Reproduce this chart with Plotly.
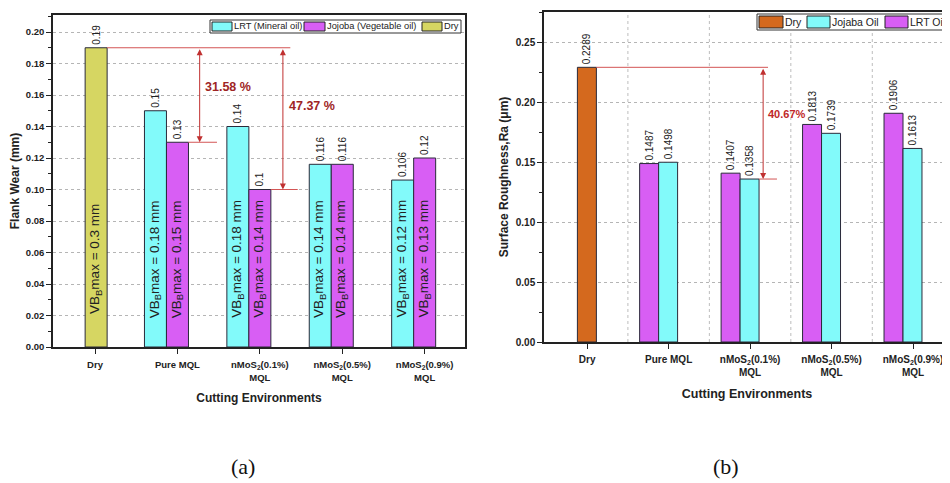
import plotly.graph_objects as go

# ---------------- data ----------------
categories = ["Dry", "Pure MQL",
              "nMoS<sub>2</sub>(0.1%)<br>MQL",
              "nMoS<sub>2</sub>(0.5%)<br>MQL",
              "nMoS<sub>2</sub>(0.9%)<br>MQL"]
dry_categories = categories[:1]
mql_categories = categories[1:]

# (a) flank wear
fw_dry = [0.19]
fw_lrt = [0.15, 0.14, 0.116, 0.106]
fw_jojoba = [0.13, 0.10, 0.116, 0.12]
vbmax_dry = [0.3]
vbmax_lrt = [0.18, 0.18, 0.14, 0.12]
vbmax_jojoba = [0.15, 0.14, 0.14, 0.13]
fw_pct_labels = ["31.58 %", "47.37 %"]
legend_a_names = ["LRT (Mineral oil)", "Jojoba (Vegetable oil)", "Dry"]

# (b) surface roughness
ra_dry = [0.2289]
ra_lrt = [0.1487, 0.1407, 0.1813, 0.1906]
ra_jojoba = [0.1498, 0.1358, 0.1739, 0.1613]
ra_pct_label = "40.67%"
legend_b_names = ["Dry", "Jojaba Oil", "LRT Oil"]

# ---------------- style ----------------
FONT = "Liberation Sans, Arial, sans-serif"
CYAN = "#82FAFA"
MAGENTA = "#D85EF4"
OLIVE = "#D6D662"
ORANGE = "#D4691E"
EDGE = "#2a2a3a"
RED_LINE = "#D35555"
RED_TEXT = "#9E2424"

# page geometry (the figure sits at an 8px body offset in the page)
W, H, OFF = 942, 475, 8
def fx(X):
    return (X - OFF) / W
def fy(Y):
    return 1 - (Y - OFF) / H

fig = go.Figure()

wL = 0.267
offL = {"lrt": -0.40, "joj": -0.133, "dry": -0.12}
wR = 0.233
offR = {"lrt": -0.356, "joj": -0.123, "dry": -0.12}

bar_txt = dict(texttemplate="%{y:.4~f}", textposition="outside", textangle=-90,
               textfont=dict(family=FONT, size=10, color="#222"),
               constraintext="none", cliponaxis=False, showlegend=False)

# ---- left traces
fig.add_trace(go.Bar(x=mql_categories, y=fw_lrt, name=legend_a_names[0], width=wL, offset=offL["lrt"],
                     marker=dict(color=CYAN, line=dict(color=EDGE, width=1)), xaxis="x", yaxis="y", **bar_txt))
fig.add_trace(go.Bar(x=mql_categories, y=fw_jojoba, name=legend_a_names[1], width=wL, offset=offL["joj"],
                     marker=dict(color=MAGENTA, line=dict(color=EDGE, width=1)), xaxis="x", yaxis="y", **bar_txt))
fig.add_trace(go.Bar(x=dry_categories, y=fw_dry, name=legend_a_names[2], width=wL, offset=offL["dry"],
                     marker=dict(color=OLIVE, line=dict(color=EDGE, width=1)), xaxis="x", yaxis="y", **bar_txt))

# ---- right traces
fig.add_trace(go.Bar(x=dry_categories, y=ra_dry, name=legend_b_names[0], width=wR, offset=offR["dry"],
                     marker=dict(color=ORANGE, line=dict(color=EDGE, width=1)), xaxis="x2", yaxis="y2", **bar_txt))
fig.add_trace(go.Bar(x=mql_categories, y=ra_lrt, name=legend_b_names[2], width=wR, offset=offR["lrt"],
                     marker=dict(color=MAGENTA, line=dict(color=EDGE, width=1)), xaxis="x2", yaxis="y2", **bar_txt))
fig.add_trace(go.Bar(x=mql_categories, y=ra_jojoba, name=legend_b_names[1], width=wR, offset=offR["joj"],
                     marker=dict(color=CYAN, line=dict(color=EDGE, width=1)), xaxis="x2", yaxis="y2", **bar_txt))

annotations = []
shapes = []

# VB max labels inside bars (left)
def vb_label(idx, off, val):
    annotations.append(dict(x=idx + off + wL / 2, y=0.056, xref="x", yref="y",
                            text=f"VB<sub>B</sub>max = {val} mm", textangle=-90, showarrow=False,
                            xanchor="center", yanchor="middle",
                            font=dict(family=FONT, size=13.5, color="#222")))

vb_label(categories.index(dry_categories[0]), offL["dry"], vbmax_dry[0])
for c, a, b in zip(mql_categories, vbmax_lrt, vbmax_jojoba):
    i = categories.index(c)
    vb_label(i, offL["lrt"], a)
    vb_label(i, offL["joj"], b)

# reduction markers (left)
dry_right = 0 + offL["dry"] + wL
i1 = categories.index(mql_categories[0])
i2 = categories.index(mql_categories[1])
line_style = dict(color=RED_LINE, width=1)
shapes.append(dict(type="line", xref="x", yref="y", x0=dry_right, x1=2.37, y0=fw_dry[0], y1=fw_dry[0], line=line_style))
shapes.append(dict(type="line", xref="x", yref="y", x0=i1 + offL["joj"] + wL, x1=1.48,
                   y0=fw_jojoba[0], y1=fw_jojoba[0], line=line_style))
shapes.append(dict(type="line", xref="x", yref="y", x0=i2 + offL["joj"] + wL, x1=2.46,
                   y0=fw_jojoba[1], y1=fw_jojoba[1], line=line_style))
for xa, ylow in [(1.27, fw_jojoba[0]), (2.28, fw_jojoba[1])]:
    annotations.append(dict(x=xa, y=ylow, ax=xa, ay=fw_dry[0], xref="x", yref="y", axref="x", ayref="y",
                            text="", showarrow=True, arrowside="end+start", arrowhead=2, arrowsize=1.2,
                            arrowwidth=1, arrowcolor="#C03030"))
annotations.append(dict(x=1.31, y=0.165, xref="x", yref="y", text="<b>" + fw_pct_labels[0] + "</b>",
                        showarrow=False, xanchor="left", yanchor="middle",
                        font=dict(family=FONT, size=12.5, color=RED_TEXT)))
annotations.append(dict(x=2.33, y=0.153, xref="x", yref="y", text="<b>" + fw_pct_labels[1] + "</b>",
                        showarrow=False, xanchor="left", yanchor="middle",
                        font=dict(family=FONT, size=12.5, color=RED_TEXT)))

# reduction marker (right)
shapes.append(dict(type="line", xref="x2", yref="y2", x0=0 + offR["dry"] + wR, x1=2.22,
                   y0=ra_dry[0], y1=ra_dry[0], line=line_style))
shapes.append(dict(type="line", xref="x2", yref="y2", x0=i2 + offR["joj"] + wR, x1=2.33,
                   y0=ra_jojoba[1], y1=ra_jojoba[1], line=line_style))
annotations.append(dict(x=2.16, y=ra_jojoba[1], ax=2.16, ay=ra_dry[0], xref="x2", yref="y2", axref="x2", ayref="y2",
                        text="", showarrow=True, arrowside="end+start", arrowhead=2, arrowsize=1.2,
                        arrowwidth=1, arrowcolor="#C03030"))
annotations.append(dict(x=2.2, y=0.19, xref="x2", yref="y2", text="<b>" + ra_pct_label + "</b>",
                        showarrow=False, xanchor="left", yanchor="middle",
                        font=dict(family=FONT, size=11, color="#C02828")))

# vertical dotted grid on right chart at category boundaries
for k in range(len(categories) - 1):
    shapes.append(dict(type="line", xref="x2", yref="y2 domain", x0=k + 0.5, x1=k + 0.5, y0=0, y1=1,
                       line=dict(color="#bdbdbd", width=1, dash="dot"), layer="below"))

# ---- manual legends (Origin style boxes)
def legend_box(x0, x1, y0, y1, items, size):
    shapes.append(dict(type="rect", xref="paper", yref="paper", x0=fx(x0), x1=fx(x1), y0=fy(y1), y1=fy(y0),
                       fillcolor="white", line=dict(color="#333", width=1), layer="above"))
    for name, color, sx0, sx1, sy0, sy1 in items:
        shapes.append(dict(type="rect", xref="paper", yref="paper", x0=fx(sx0), x1=fx(sx1), y0=fy(sy1), y1=fy(sy0),
                           fillcolor=color, line=dict(color="#222", width=1), layer="above"))
        annotations.append(dict(x=fx(sx1 + 1), y=fy((sy0 + sy1) / 2), xref="paper", yref="paper", text=name,
                                showarrow=False, xanchor="left", yanchor="middle", borderpad=0,
                                font=dict(family=FONT, size=size, color="#222")))

legend_box(210, 461, 20, 33,
           [(legend_a_names[0], CYAN, 212, 232, 22, 31),
            (legend_a_names[1], MAGENTA, 304, 325, 22, 31),
            (legend_a_names[2], OLIVE, 422, 442, 22, 31)], 9.3)
legend_box(757, 975, 14, 30,
           [(legend_b_names[0], ORANGE, 759, 783, 16, 28),
            (legend_b_names[1], CYAN, 807, 830, 16, 28),
            (legend_b_names[2], MAGENTA, 885, 908, 16, 28)], 10.5)

# panel labels
annotations.append(dict(x=fx(243), y=fy(466), xref="paper", yref="paper", text="(a)", showarrow=False,
                        xanchor="center", yanchor="middle",
                        font=dict(family="Liberation Serif, Times New Roman, serif", size=22, color="#111")))
annotations.append(dict(x=fx(726), y=fy(466), xref="paper", yref="paper", text="(b)", showarrow=False,
                        xanchor="center", yanchor="middle",
                        font=dict(family="Liberation Serif, Times New Roman, serif", size=22, color="#111")))

axis_common = dict(showline=True, mirror=True, linecolor="#222", linewidth=1.5, ticks="outside",
                   ticklen=5, tickcolor="#222", zeroline=False)

fig.update_layout(
    width=W, height=H,
    margin=dict(l=0, r=0, t=0, b=0, autoexpand=False),
    paper_bgcolor="white", plot_bgcolor="white",
    barmode="overlay", showlegend=False,
    font=dict(family=FONT, color="#222"),
    xaxis=dict(domain=[fx(53), fx(465)], anchor="y", type="category", categoryorder="array",
               categoryarray=categories, range=[-0.51, 4.49], showgrid=False,
               tickfont=dict(family=FONT, size=9.5, weight="bold"), ticklabelstandoff=3,
               title=dict(text="Cutting Environments", font=dict(family=FONT, size=12, weight="bold"), standoff=12),
               **axis_common),
    yaxis=dict(domain=[fy(347), fy(15)], anchor="x", range=[0, 0.2108], dtick=0.02, tickformat=".2f",
               showgrid=True, gridcolor="#b5b5b5", griddash="dot", gridwidth=1,
               minor=dict(ticks="outside", ticklen=3, dtick=0.01, tickcolor="#222", showgrid=False),
               tickfont=dict(family=FONT, size=9.5, weight="bold"),
               title=dict(text="Flank Wear (mm)", font=dict(family=FONT, size=12, weight="bold"), standoff=5),
               **axis_common),
    xaxis2=dict(domain=[fx(544), 1.0], anchor="y2", type="category", categoryorder="array",
                categoryarray=categories, range=[-0.53, 4.454], showgrid=False,
                tickfont=dict(family=FONT, size=10, weight="bold"), ticklabelstandoff=2,
                title=dict(text="Cutting Environments", font=dict(family=FONT, size=12.5, weight="bold"), standoff=12),
                **axis_common),
    yaxis2=dict(domain=[fy(342), fy(12)], anchor="x2", range=[0, 0.275], dtick=0.05, tickformat=".2f",
                showgrid=True, gridcolor="#b5b5b5", griddash="dot", gridwidth=1,
                minor=dict(ticks="outside", ticklen=3, dtick=0.025, tickcolor="#222", showgrid=False),
                tickfont=dict(family=FONT, size=10, weight="bold"),
                title=dict(text="Surface Roughness,Ra (μm)", font=dict(family=FONT, size=12, weight="bold"), standoff=5),
                **axis_common),
    annotations=annotations,
    shapes=shapes,
)

fig.write_html("out.html")
